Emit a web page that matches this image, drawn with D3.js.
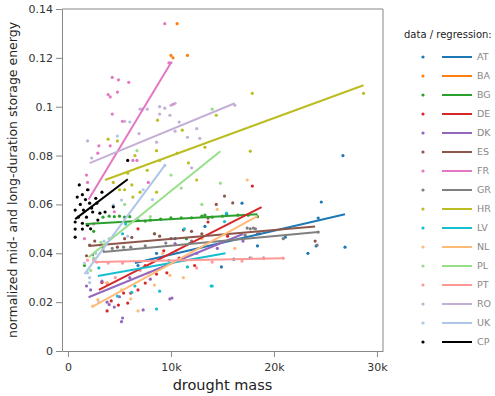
<!DOCTYPE html>
<html>
<head>
<meta charset="utf-8">
<script src="https://cdn.jsdelivr.net/npm/d3@7"></script>
<style>
  body { margin: 0; background: #fff; }
  svg { font-family: "DejaVu Sans", Verdana, sans-serif; }
</style>
</head>
<body>
<div id="chart"></div>
<script>
const countries = ['AT', 'BA', 'BG', 'DE', 'DK', 'ES', 'FR', 'GR', 'HR', 'LV', 'NL', 'PL', 'PT', 'RO', 'UK', 'CP'];
const colors = ['#1f77b4', '#ff7f0e', '#2ca02c', '#d62728', '#9467bd', '#8c564b', '#e377c2', '#7f7f7f',
                '#bcbd22', '#17becf', '#ffbb78', '#98df8a', '#ff9896', '#c5b0d5', '#aec7e8', '#000000'];
const xTicks = [0, 10000, 20000, 30000];
const yTicks = [0, 0.02, 0.04, 0.06, 0.08, 0.1, 0.12, 0.14];

// scatter points: [drought mass, normalized storage energy]
const ptsAT = [[16900, 0.0605], [24600, 0.061], [26700, 0.080], [26900, 0.0425], [23300, 0.040], [24100, 0.043],
               [21100, 0.0466], [18400, 0.043], [14900, 0.0344], [16100, 0.0376], [17700, 0.038], [19000, 0.038],
               [24300, 0.0544], [15400, 0.056], [13300, 0.051], [10400, 0.046], [8600, 0.040], [6800, 0.035], [11800, 0.044]];
const ptsBA = [[10600, 0.134], [10000, 0.121], [10200, 0.120], [11600, 0.121]];
const ptsBG = [[3400, 0.0548], [4000, 0.0552], [4500, 0.055], [5000, 0.0552], [5500, 0.0548], [6000, 0.055],
               [6800, 0.0536], [7500, 0.0532], [8000, 0.0536], [9000, 0.054], [10000, 0.0545], [11000, 0.0545],
               [12000, 0.0545], [13000, 0.0552], [14000, 0.0548], [15000, 0.0552], [16500, 0.0556], [17500, 0.0556],
               [18400, 0.055], [13300, 0.0556], [8400, 0.048], [1600, 0.035], [2500, 0.049], [11500, 0.046]];
const ptsDE = [[17900, 0.0675], [13600, 0.0528], [6800, 0.050], [3800, 0.0278], [3300, 0.028], [5400, 0.0237],
               [6100, 0.0237], [6800, 0.025], [7500, 0.0278], [8600, 0.0315], [9600, 0.032], [7500, 0.035],
               [4900, 0.0188], [3800, 0.0164], [5800, 0.0196], [4200, 0.0205], [18600, 0.048], [12300, 0.035],
               [10800, 0.038], [9300, 0.041], [15500, 0.047]];
const ptsDK = [[1800, 0.0266], [2200, 0.025], [3300, 0.0286], [3800, 0.020], [4000, 0.019], [4500, 0.018],
               [5300, 0.0135], [7300, 0.0168], [8000, 0.0294], [10100, 0.0217], [6000, 0.030], [5000, 0.0222],
               [10400, 0.044], [17000, 0.045], [9900, 0.0213], [5200, 0.012], [12500, 0.040], [14500, 0.042]];
const ptsES = [[5500, 0.046], [6200, 0.0465], [8400, 0.048], [8900, 0.047], [15200, 0.0634], [13600, 0.0544],
               [16000, 0.0606], [14400, 0.060], [24000, 0.045], [13000, 0.048], [11200, 0.0495], [12000, 0.049],
               [2100, 0.0434], [2600, 0.045], [3400, 0.0425], [4800, 0.0425], [1800, 0.039], [10000, 0.046]];
const ptsFR = [[9400, 0.134], [9800, 0.118], [10000, 0.118], [4300, 0.112], [4900, 0.111], [5900, 0.110],
               [4800, 0.106], [3900, 0.105], [4100, 0.104], [4300, 0.097], [5300, 0.094], [10200, 0.101],
               [3000, 0.084], [2900, 0.081], [4100, 0.084], [1800, 0.072], [1900, 0.069], [2000, 0.066],
               [4500, 0.057], [2500, 0.052], [1600, 0.046], [7800, 0.069], [6300, 0.078], [6700, 0.078]];
const ptsGR = [[2400, 0.0394], [3400, 0.0413], [4300, 0.042], [5400, 0.0425], [6100, 0.0425], [7500, 0.043],
               [17700, 0.050], [18200, 0.050], [17200, 0.0474], [17400, 0.0503], [18000, 0.0503], [24200, 0.0434],
               [24300, 0.0487], [20900, 0.046], [18400, 0.048], [12000, 0.045], [9500, 0.0442]];
const ptsHR = [[8700, 0.0945], [14400, 0.0965], [17900, 0.1055], [13300, 0.0834], [17700, 0.0818], [28700, 0.1055],
               [3900, 0.0867], [4800, 0.086], [6500, 0.080], [8600, 0.082], [10600, 0.081], [11100, 0.0904],
               [4400, 0.069], [5000, 0.066], [5500, 0.066], [6200, 0.068], [7000, 0.065], [7700, 0.074],
               [8600, 0.065], [6300, 0.063], [5800, 0.0728], [8900, 0.078], [12500, 0.070], [11700, 0.077]];
const ptsLV = [[15200, 0.053], [15400, 0.0564], [13900, 0.0266], [6500, 0.0266], [8900, 0.0245], [8600, 0.0172],
               [4800, 0.0225], [6200, 0.024], [14000, 0.0266], [11600, 0.0344], [5300, 0.048], [11300, 0.050],
               [5600, 0.052], [3000, 0.034], [9800, 0.037]];
const ptsNL = [[2400, 0.0184], [2900, 0.021], [6800, 0.0164], [6100, 0.0213], [8400, 0.027], [9200, 0.040],
               [14500, 0.058], [17400, 0.070], [16200, 0.042], [9900, 0.031], [11200, 0.030], [5200, 0.025],
               [7800, 0.032], [13000, 0.046], [3800, 0.028]];
const ptsPL = [[14000, 0.099], [14800, 0.0687], [6700, 0.082], [2500, 0.038], [4000, 0.046], [8000, 0.055],
               [11000, 0.0667], [13000, 0.060], [2200, 0.033], [10000, 0.072], [5500, 0.060], [3200, 0.0445]];
const ptsPT = [[1900, 0.0372], [2500, 0.0372], [2800, 0.0364], [3900, 0.036], [5300, 0.036], [14000, 0.0364],
               [16900, 0.0368], [19000, 0.038], [20900, 0.038], [17800, 0.038], [7000, 0.033], [10500, 0.041],
               [12500, 0.034], [4600, 0.030]];
const ptsRO = [[7000, 0.099], [7200, 0.099], [7700, 0.099], [8900, 0.100], [9400, 0.0994], [10000, 0.1006],
               [10400, 0.1014], [8900, 0.097], [9900, 0.0965], [10800, 0.0937], [12500, 0.091], [5500, 0.094],
               [6900, 0.089], [8600, 0.0855], [10400, 0.090], [11600, 0.0875], [12800, 0.087], [12000, 0.075],
               [1900, 0.086], [2300, 0.079], [16200, 0.1006]];
const ptsUK = [[6000, 0.0937], [4800, 0.088], [4400, 0.0597], [5200, 0.0618], [6700, 0.054], [1600, 0.036],
               [1900, 0.032], [2100, 0.030], [2100, 0.028], [3000, 0.020], [3500, 0.045], [5800, 0.047],
               [8200, 0.062], [9400, 0.076], [2700, 0.040], [7300, 0.066]];
const ptsCP = [[5800, 0.078], [1900, 0.066], [1400, 0.064], [900, 0.063], [1700, 0.062], [1200, 0.060],
               [2100, 0.0605], [2800, 0.0605], [700, 0.0577], [1500, 0.0577], [2400, 0.0569], [3100, 0.0564],
               [1000, 0.0548], [1800, 0.0548], [3600, 0.0569], [700, 0.0528], [1400, 0.0523], [1900, 0.0515],
               [2900, 0.0536], [700, 0.0499], [1400, 0.0499], [2200, 0.050], [700, 0.0466], [2300, 0.0585],
               [2700, 0.0625], [4400, 0.059], [1100, 0.068], [3300, 0.065]];
const points = [ptsAT, ptsBA, ptsBG, ptsDE, ptsDK, ptsES, ptsFR, ptsGR, ptsHR, ptsLV, ptsNL, ptsPL, ptsPT, ptsRO, ptsUK, ptsCP];

// regression line endpoints per country (null = no visible line)
const regAT = [[6500, 0.036], [26900, 0.056]];
const regBA = null;
const regBG = [[1700, 0.052], [18400, 0.056]];
const regDE = [[3000, 0.025], [18800, 0.0589]];
const regDK = [[2000, 0.022], [17000, 0.0479]];
const regES = [[2000, 0.043], [24000, 0.051]];
const regFR = [[2000, 0.062], [10000, 0.118]];
const regGR = [[3400, 0.0405], [24300, 0.0487]];
const regHR = [[3600, 0.070], [28700, 0.1088]];
const regLV = [[2900, 0.0307], [15300, 0.040]];
const regNL = [[2300, 0.018], [18400, 0.0552]];
const regPL = [[2000, 0.0384], [14800, 0.0818]];
const regPT = [[2600, 0.0364], [20900, 0.038]];
const regRO = [[2100, 0.0769], [16200, 0.1014]];
const regUK = [[1600, 0.0315], [9400, 0.076]];
const regCP = [[700, 0.054], [5800, 0.0703]];
const regs = [regAT, regBA, regBG, regDE, regDK, regES, regFR, regGR, regHR, regLV, regNL, regPL, regPT, regRO, regUK, regCP];

const width = 495, height = 396;
const plot = { left: 62, right: 383, top: 9, bottom: 351 };

const svg = d3.select('#chart').append('svg')
    .attr('width', width)
    .attr('height', height);

const x = d3.scaleLinear().domain([-580, 30590]).range([plot.left, plot.right]);
const y = d3.scaleLinear().domain([0, 0.14]).range([plot.bottom, plot.top]);

// frame (top/right)
svg.append('path')
    .attr('d', `M${plot.left},${plot.top}H${plot.right}V${plot.bottom}`)
    .attr('fill', 'none')
    .attr('stroke', '#888')
    .attr('stroke-width', 1);

const xAxis = svg.append('g')
    .attr('transform', `translate(0,${plot.bottom})`)
    .call(d3.axisBottom(x).tickValues(xTicks).tickSize(6).tickSizeOuter(0)
        .tickFormat(d => d === 0 ? '0' : d3.format('~s')(d)));

const yAxis = svg.append('g')
    .attr('transform', `translate(${plot.left},0)`)
    .call(d3.axisLeft(y).tickValues(yTicks).tickSize(6).tickSizeOuter(0)
        .tickFormat(d => d === 0 ? '0' : d3.format('')(+d.toFixed(2))));

[xAxis, yAxis].forEach(ax => {
    ax.select('.domain').attr('stroke', '#888');
    ax.selectAll('.tick line').attr('stroke', '#888');
    ax.selectAll('.tick text').attr('fill', '#333').style('font-size', '11px')
        .style('font-family', '"DejaVu Sans", Verdana, sans-serif');
});
xAxis.selectAll('.tick text').attr('dy', '1.0em');

svg.append('text')
    .attr('x', (plot.left + plot.right) / 2)
    .attr('y', 390)
    .attr('text-anchor', 'middle')
    .attr('fill', '#222')
    .style('font-size', '14.5px')
    .text('drought mass');

svg.append('text')
    .attr('transform', 'rotate(-90)')
    .attr('x', -(plot.top + plot.bottom) / 2)
    .attr('y', 17)
    .attr('text-anchor', 'middle')
    .attr('fill', '#222')
    .style('font-size', '12.5px')
    .text('normalized mid- and long-duration storage energy');

// points
countries.forEach((c, i) => {
    svg.append('g').selectAll('circle')
        .data(points[i])
        .join('circle')
        .attr('cx', d => x(d[0]))
        .attr('cy', d => y(d[1]))
        .attr('r', 1.6)
        .attr('fill', colors[i]);
});

// regression lines
const line = d3.line().x(d => x(d[0])).y(d => y(d[1]));
countries.forEach((c, i) => {
    if (!regs[i]) return;
    svg.append('path')
        .datum(regs[i])
        .attr('d', line)
        .attr('fill', 'none')
        .attr('stroke', colors[i])
        .attr('stroke-width', 2);
});

// legend
const legend = svg.append('g').attr('transform', 'translate(404,0)');
legend.append('text')
    .attr('x', 0)
    .attr('y', 38)
    .attr('fill', '#222')
    .style('font-size', '10px')
    .text('data / regression:');

const rowY = d3.scalePoint().domain(countries).range([57, 342]);
countries.forEach((c, i) => {
    const g = legend.append('g').attr('transform', `translate(0,${rowY(c)})`);
    g.append('circle').attr('cx', 19).attr('cy', 0).attr('r', 1.6).attr('fill', colors[i]);
    g.append('line').attr('x1', 38).attr('x2', 68).attr('y1', 0).attr('y2', 0)
        .attr('stroke', colors[i]).attr('stroke-width', 2);
    g.append('text').attr('x', 73).attr('y', 0).attr('dy', '0.35em')
        .attr('fill', '#888')
        .style('font-size', '9.5px')
        .text(c);
});
</script>
</body>
</html>
